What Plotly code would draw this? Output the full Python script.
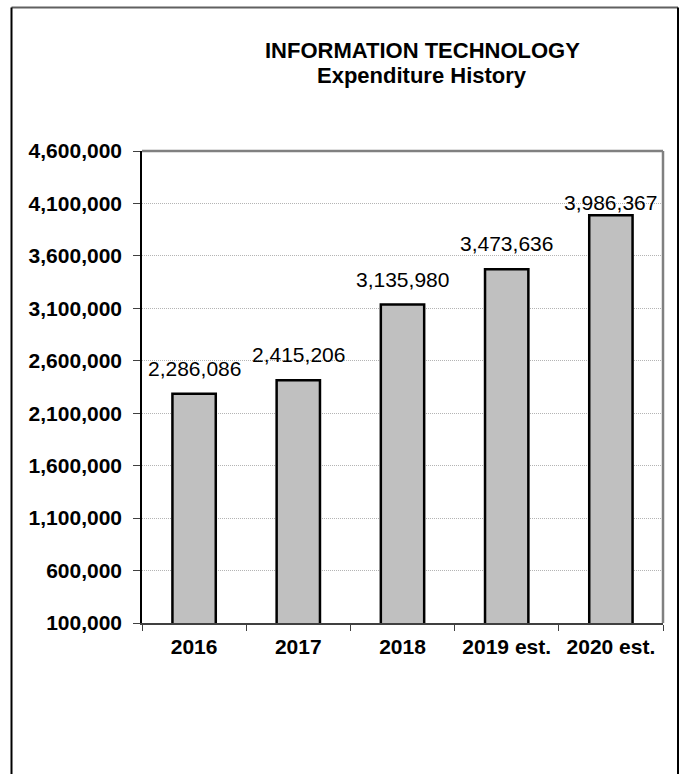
import plotly.graph_objects as go

# Expenditure history data
years = ["2016", "2017", "2018", "2019 est.", "2020 est."]
expenditure = [2286086, 2415206, 3135980, 3473636, 3986367]

y_ticks = [100000, 600000, 1100000, 1600000, 2100000, 2600000, 3100000, 3600000, 4100000, 4600000]
y_tick_labels = [f"{v:,}" for v in y_ticks]

FONT = "Liberation Sans, Arial, sans-serif"

W, H = 685, 774
ML, MR, MT, MB = 142, 22, 151, 151
PW = W - ML - MR
PH = H - MT - MB


def px_x(x):
    return (x - ML) / PW


def px_y(y):
    return (H - MB - y) / PH


fig = go.Figure()
fig.add_trace(go.Bar(
    x=years,
    y=expenditure,
    width=0.416,
    marker=dict(color="#c0c0c0", line=dict(color="black", width=2.5)),
    hoverinfo="skip",
))

# Value labels above each bar (x given as category index);
# the last label sits closer to its bar
for i, val in enumerate(expenditure):
    shift = 12 if i < len(expenditure) - 1 else -1
    fig.add_annotation(
        x=i, y=val, xref="x", yref="y",
        text=f"{val:,}", showarrow=False,
        xanchor="center", yanchor="bottom", yshift=shift,
        font=dict(family=FONT, size=21, color="black"),
    )

fig.update_layout(
    width=W, height=H,
    margin=dict(l=ML, r=MR, t=MT, b=MB, pad=0),
    paper_bgcolor="white",
    plot_bgcolor="white",
    showlegend=False,
    xaxis=dict(
        type="category",
        categoryorder="array",
        categoryarray=years,
        range=[-0.5, len(years) - 0.5],
        tickson="boundaries",
        ticks="outside",
        ticklen=6,
        tickcolor="#404040",
        tickwidth=1,
        showline=True,
        linecolor="#404040",
        linewidth=1.5,
        showgrid=False,
        tickfont=dict(family=FONT, size=21, color="black", weight="bold"),
        ticklabelstandoff=4,
        tickangle=0,
    ),
    yaxis=dict(
        range=[100000, 4600000],
        tickvals=y_ticks,
        ticktext=y_tick_labels,
        ticks="outside",
        ticklen=7,
        tickcolor="#404040",
        tickwidth=1,
        showline=True,
        linecolor="black",
        linewidth=1.5,
        showgrid=True,
        gridcolor="#b4b4b4",
        gridwidth=1,
        griddash="1px,1px",
        zeroline=False,
        tickfont=dict(family=FONT, size=21, color="black", weight="bold"),
        ticklabelstandoff=7,
    ),
)

# Plot area border: gray top and right edges
fig.add_shape(type="line", xref="paper", yref="paper", x0=0, x1=1, y0=1, y1=1,
              line=dict(color="#808080", width=2.5))
fig.add_shape(type="line", xref="paper", yref="paper", x0=1, x1=1, y0=0, y1=1,
              line=dict(color="#808080", width=2.5))

# Outer chart frame (open at the bottom)
fx0, fx1 = px_x(11.5), px_x(678)
fy_top, fy_bot = px_y(7.5), px_y(790)
fig.add_shape(type="line", xref="paper", yref="paper", x0=fx0, x1=fx1, y0=fy_top, y1=fy_top,
              line=dict(color="#606060", width=2))
fig.add_shape(type="line", xref="paper", yref="paper", x0=fx0, x1=fx0, y0=fy_bot, y1=fy_top,
              line=dict(color="black", width=2))
fig.add_shape(type="line", xref="paper", yref="paper", x0=fx1, x1=fx1, y0=fy_bot, y1=fy_top,
              line=dict(color="black", width=2))

# Title lines
fig.add_annotation(text="<b>INFORMATION TECHNOLOGY</b>", xref="paper", yref="paper",
                   x=px_x(422), y=px_y(50), xanchor="center", yanchor="middle",
                   showarrow=False, font=dict(family=FONT, size=22, color="black"))
fig.add_annotation(text="<b>Expenditure History</b>", xref="paper", yref="paper",
                   x=px_x(422), y=px_y(75), xanchor="center", yanchor="middle",
                   showarrow=False, font=dict(family=FONT, size=22, color="black"))

fig.write_html("out.html")
